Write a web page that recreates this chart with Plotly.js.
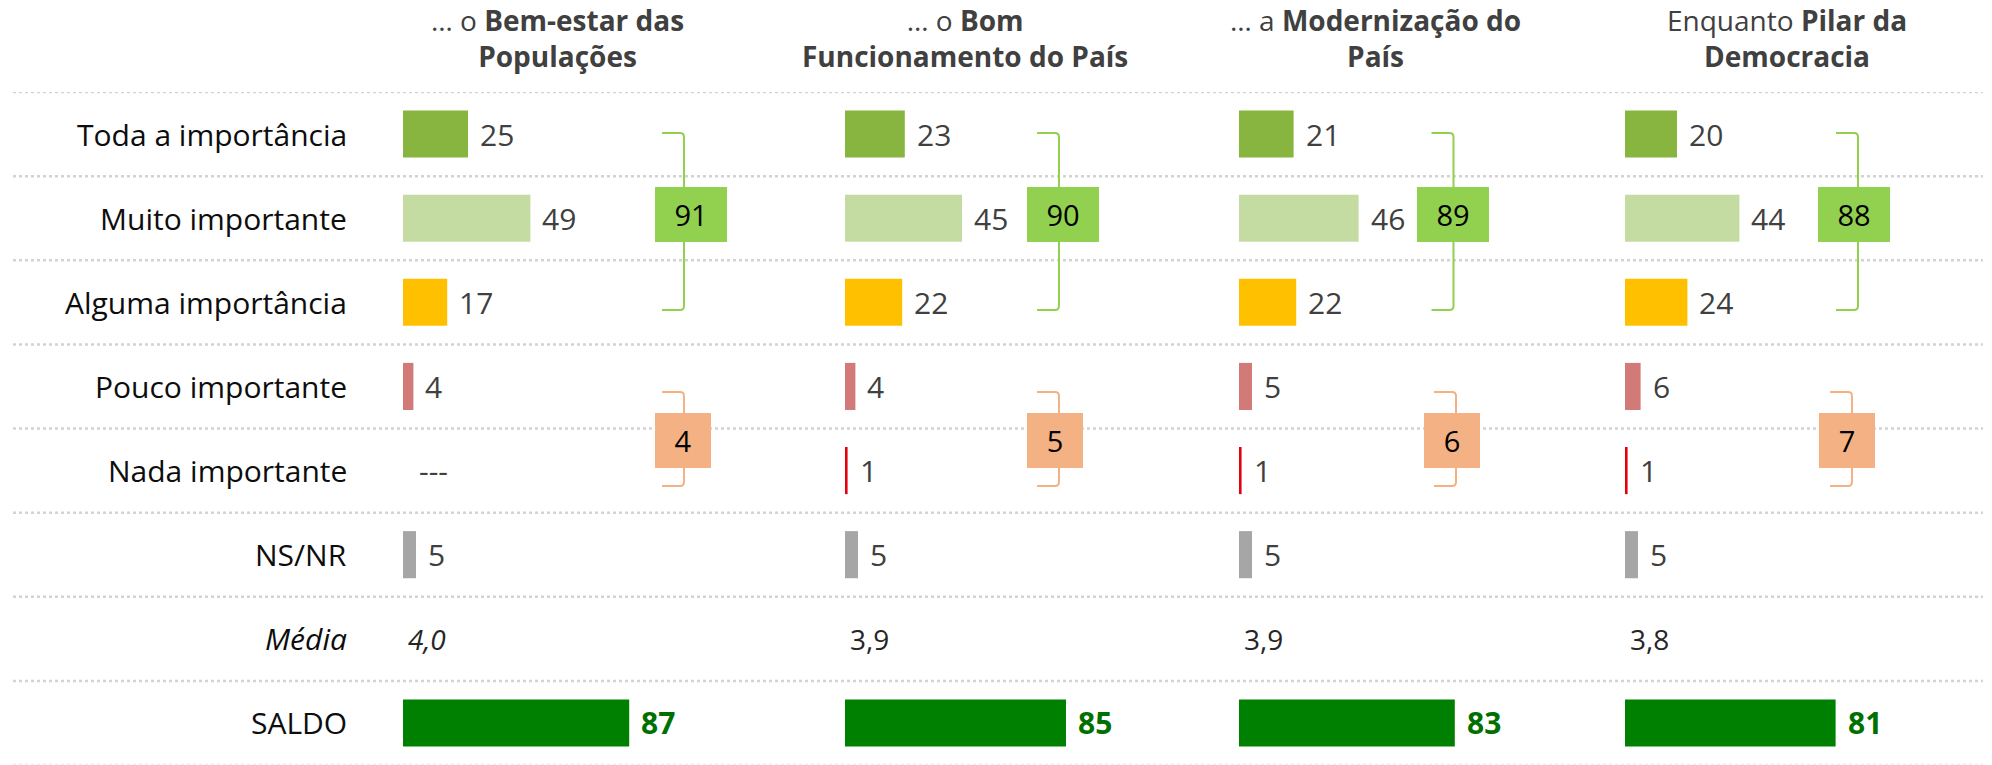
<!DOCTYPE html>
<html>
<head>
<meta charset="utf-8">
<script src="https://cdn.plot.ly/plotly-3.0.1.min.js"></script>
<style>
  html, body { margin: 0; padding: 0; background: #ffffff; }
  #chart { width: 1992px; height: 765px; }
</style>
</head>
<body>
<div id="chart"></div>
<script>
// ---------------- DATA ----------------
const categories = ["Toda a importância", "Muito importante", "Alguma importância", "Pouco importante",
                    "Nada importante", "NS/NR", "Média", "SALDO"];
const columnTitles = [
  "… o <b>Bem-estar das</b><br><b>Populações</b>",
  "… o <b>Bom</b><br><b>Funcionamento do País</b>",
  "… a <b>Modernização do</b><br><b>País</b>",
  "Enquanto <b>Pilar da</b><br><b>Democracia</b>"
];
const todaImportancia  = [25, 23, 21, 20];
const muitoImportante  = [49, 45, 46, 44];
const algumaImportancia = [17, 22, 22, 24];
const poucoImportante  = [4, 4, 5, 6];
const nadaImportante   = [null, 1, 1, 1];
const nsnr             = [5, 5, 5, 5];
const media            = ["4,0", "3,9", "3,9", "3,8"];
const saldo            = [87, 85, 83, 81];
const totalImportante  = [91, 90, 89, 88];
const totalPoucoNada   = [4, 5, 6, 7];

// ---------------- STYLE / LAYOUT SETTINGS ----------------
const W = 1992, H = 765;
const FONT = "Open Sans, Noto Sans, DejaVu Sans, sans-serif";
const rowColors = ["#87b53f", "#c4dca1", "#ffc000", "#d17a78", "#e3000f", "#a6a6a6", "#ffffff", "#008000"];
const colStarts = [403, 845, 1239, 1625];        // px where each column's bars start
const pxPerUnit = 2.6;
const colWidth = 330;
const xMax = colWidth / pxPerUnit;
const titleCenters = [557, 965, 1375, 1787];
const greenBoxOff = [288, 218, 214, 229];
const greenBracketOff = [281, 214, 214.5, 233];
const orangeBoxOff = [280, 210, 212.5, 222];
const orangeBracketOff = [281, 214, 217, 227];
const TOP = 92;
const rowPx = (H - TOP) / 8;
const pxToRow = p => (p - TOP) / rowPx - 0.5;

const traces = [];
const annotations = [];
const shapes = [];

const layout = {
  width: W, height: H,
  margin: {l: 0, r: 0, t: TOP, b: 0},
  paper_bgcolor: "#ffffff", plot_bgcolor: "#ffffff",
  showlegend: false,
  font: {family: FONT, color: "#404040"},
  yaxis: {range: [7.5, -0.5], visible: false, fixedrange: true, domain: [0, 1]},
  bargap: 0.44
};

// dotted separators
for (let k = 0; k <= 8; k++) {
  shapes.push({type: "line", xref: "paper", yref: "y", x0: 13 / W, x1: 1983 / W,
               y0: k - 0.5, y1: k - 0.5, layer: "below",
               line: {color: k === 8 ? "#ececec" : "#d3d3d3", width: 2.5, dash: "3px,3px"}});
}

// row labels
categories.forEach((c, i) => {
  annotations.push({xref: "paper", yref: "y", x: 349 / W, y: i, xanchor: "right", yanchor: "middle",
    text: c === "Média" ? "<i>" + c + "</i>" : c, showarrow: false,
    font: {family: FONT, size: 30, color: "#0d0d0d"}});
});

for (let col = 0; col < 4; col++) {
  const ax = col === 0 ? "x" : "x" + (col + 1);
  const axKey = col === 0 ? "xaxis" : "xaxis" + (col + 1);
  layout[axKey] = {domain: [colStarts[col] / W, (colStarts[col] + colWidth) / W],
                   range: [0, xMax], visible: false, fixedrange: true, anchor: "y"};

  const vals = [todaImportancia[col], muitoImportante[col], algumaImportancia[col], poucoImportante[col],
                nadaImportante[col], nsnr[col], null, saldo[col]];
  traces.push({type: "bar", orientation: "h", x: vals, y: categories.map((_, i) => i),
               xaxis: ax, yaxis: "y", marker: {color: rowColors, line: {width: 0}},
               hoverinfo: "skip", width: 0.56});

  // value labels
  vals.forEach((v, i) => {
    if (i === 6) return;
    if (i === 7) {
      annotations.push({xref: ax, yref: "y", x: v, y: i, xanchor: "left", yanchor: "middle", xshift: 10,
        text: "<b>" + v + "</b>", showarrow: false, font: {family: FONT, size: 30, color: "#007000"}});
      return;
    }
    annotations.push({xref: ax, yref: "y", x: v === null ? 0 : v, y: i, xanchor: "left", yanchor: "middle",
      xshift: v === null ? 14 : 10, text: v === null ? "---" : String(v), showarrow: false,
      font: {family: FONT, size: 30, color: "#404040"}});
  });

  // média
  annotations.push({xref: ax, yref: "y", x: 0, y: 6, xanchor: "left", yanchor: "middle", xshift: 3,
    text: col === 0 ? "<i>" + media[col] + "</i>" : media[col], showarrow: false,
    font: {family: FONT, size: 28, color: "#262626"}});

  // titles
  annotations.push({xref: "paper", yref: "paper", x: titleCenters[col] / W, y: 1, xanchor: "center",
    yanchor: "bottom", yshift: 15, align: "center", text: columnTitles[col], showarrow: false,
    font: {family: FONT, size: 28, color: "#404040"}});

  // brackets
  const brk = (offPx, yTopPx, yBotPx, color) => {
    const xb = offPx / pxPerUnit, xa = (offPx - 22) / pxPerUnit, r = 4 / pxPerUnit;
    const yt = pxToRow(yTopPx), yb = pxToRow(yBotPx), ry = 4 / rowPx;
    shapes.push({type: "path", xref: ax, yref: "y", layer: "above",
      path: `M ${xa},${yt} L ${xb - r},${yt} Q ${xb},${yt} ${xb},${yt + ry} L ${xb},${yb - ry} Q ${xb},${yb} ${xb - r},${yb} L ${xa},${yb}`,
      line: {color: color, width: 2}});
  };
  brk(greenBracketOff[col], 133, 310, "#92d050");
  brk(orangeBracketOff[col], 392, 486, "#f4b183");

  // summary boxes
  annotations.push({xref: ax, yref: "y", x: greenBoxOff[col] / pxPerUnit, y: pxToRow(214.5),
    xanchor: "center", yanchor: "middle", width: 72, height: 55, bgcolor: "#92d050", borderpad: 0,
    borderwidth: 0, text: String(totalImportante[col]), showarrow: false,
    font: {family: FONT, size: 29, color: "#000000"}});
  annotations.push({xref: ax, yref: "y", x: orangeBoxOff[col] / pxPerUnit, y: pxToRow(440.5),
    xanchor: "center", yanchor: "middle", width: 56, height: 55, bgcolor: "#f4b183", borderpad: 0,
    borderwidth: 0, text: String(totalPoucoNada[col]), showarrow: false,
    font: {family: FONT, size: 29, color: "#000000"}});
}

layout.annotations = annotations;
layout.shapes = shapes;

Plotly.newPlot("chart", traces, layout, {displayModeBar: false, staticPlot: true});
</script>
</body>
</html>
